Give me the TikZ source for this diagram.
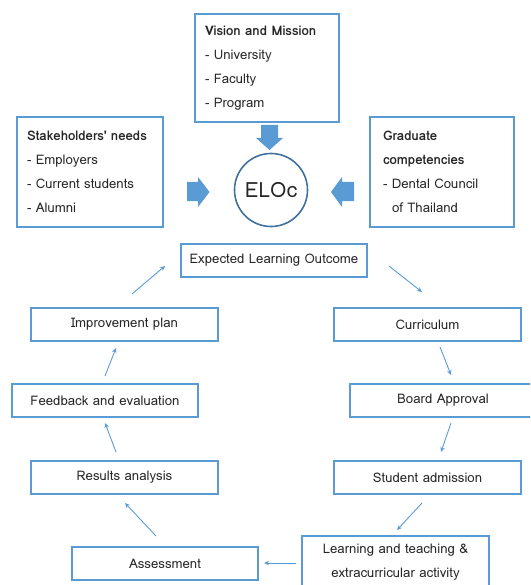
\documentclass[tikz,border=0pt]{standalone}
\usepackage{fontspec}
\setmainfont{Loma}[Ligatures=TeXOff]
\usetikzlibrary{arrows.meta}
\definecolor{boxblue}{HTML}{5B9BD5}
\definecolor{ringblue}{HTML}{41719C}
\definecolor{ink}{HTML}{262626}
\begin{document}
\begin{tikzpicture}[x=1pt,y=-1pt,
  every node/.style={text=ink,font=\fontsize{13.2}{24}\selectfont},
  srcbox/.style={draw=boxblue,line width=1.6pt,align=left,inner xsep=0pt,inner ysep=0pt},
  stepbox/.style={draw=boxblue,line width=1.6pt,inner sep=0pt,minimum height=33pt},
  flow/.style={draw=boxblue,line width=0.9pt,-{Stealth[length=5pt,width=4.5pt]}},
  bigarrow/.style={fill=boxblue,draw=none}]
\useasboundingbox (0,0) rectangle (530,585);
\clip (0,0) rectangle (530,585);

% Input boxes
\node[srcbox,minimum width=144pt,minimum height=108pt,text width=124pt] (vision) at (267,68)
  {\textbf{Vision and Mission}\\- University\\- Faculty\\- Program};
\node[srcbox,minimum width=146pt,minimum height=110pt,text width=126pt] (stake) at (90,172)
  {\textbf{Stakeholders' needs}\\- Employers\\- Current students\\- Alumni};
\node[srcbox,minimum width=144pt,minimum height=110pt,text width=118pt] (grad) at (442,172)
  {\textbf{Graduate}\\\textbf{competencies}\\- Dental Council\\\hspace*{9pt}of Thailand};

% Central outcome
\node[circle,draw=ringblue,line width=1.6pt,minimum size=73pt,inner sep=0pt,
  font=\fontsize{21}{24}\selectfont] (eloc) at (271,190) {ELOc};

% Block arrows into the centre
\fill[bigarrow] (261,125) -- (278,125) -- (278,138) -- (283,138) -- (269.5,150)
  -- (256,138) -- (261,138) -- cycle;
\fill[bigarrow] (187,182) -- (198,182) -- (198,177) -- (209.5,192) -- (198,207)
  -- (198,201) -- (187,201) -- cycle;
\fill[bigarrow] (354,182) -- (342,182) -- (342,177) -- (331,192) -- (342,207)
  -- (342,201) -- (354,201) -- cycle;

% Cycle steps
\node[stepbox,minimum width=186pt] (elo) at (274,260.5) {Expected Learning Outcome};
\node[stepbox,minimum width=187pt] (impr) at (124.5,324.5) {Improvement plan};
\node[stepbox,minimum width=187pt] (curr) at (427.5,324.5) {Curriculum};
\node[stepbox,minimum width=186pt] (feed) at (105,400.5) {Feedback and evaluation};
\node[stepbox,minimum width=186pt] (board) at (443,400.5) {Board Approval};
\node[stepbox,minimum width=187pt] (res) at (124.5,477.5) {Results analysis};
\node[stepbox,minimum width=187pt] (stud) at (427.5,477.5) {Student admission};
\node[stepbox,minimum width=186pt] (assess) at (165,563.5) {Assessment};
\node[stepbox,minimum width=187pt,minimum height=52pt,align=center] (learn) at (395.5,562)
  {Learning and teaching \&\\extracurricular activity};

% Connector ends
\coordinate (a1) at (389,266);  \coordinate (b1) at (422,292);
\coordinate (a2) at (440,347);  \coordinate (b2) at (451,375);
\coordinate (a3) at (451,423);  \coordinate (b3) at (441,452);
\coordinate (a4) at (422,503);  \coordinate (b4) at (397,530);
\coordinate (a5) at (296,563);  \coordinate (b5) at (264,563);
\coordinate (a6) at (156,536);  \coordinate (b6) at (125,503);
\coordinate (a7) at (116,452);  \coordinate (b7) at (105,423);
\coordinate (a8) at (105,376);  \coordinate (b8) at (116,348);
\coordinate (a9) at (132,294);  \coordinate (b9) at (165,266);

\draw[flow] (a1) -- (b1);
\draw[flow] (a2) -- (b2);
\draw[flow] (a3) -- (b3);
\draw[flow] (a4) -- (b4);
\draw[flow] (a5) -- (b5);
\draw[flow] (a6) -- (b6);
\draw[flow] (a7) -- (b7);
\draw[flow] (a8) -- (b8);
\draw[flow] (a9) -- (b9);
\end{tikzpicture}
\end{document}
